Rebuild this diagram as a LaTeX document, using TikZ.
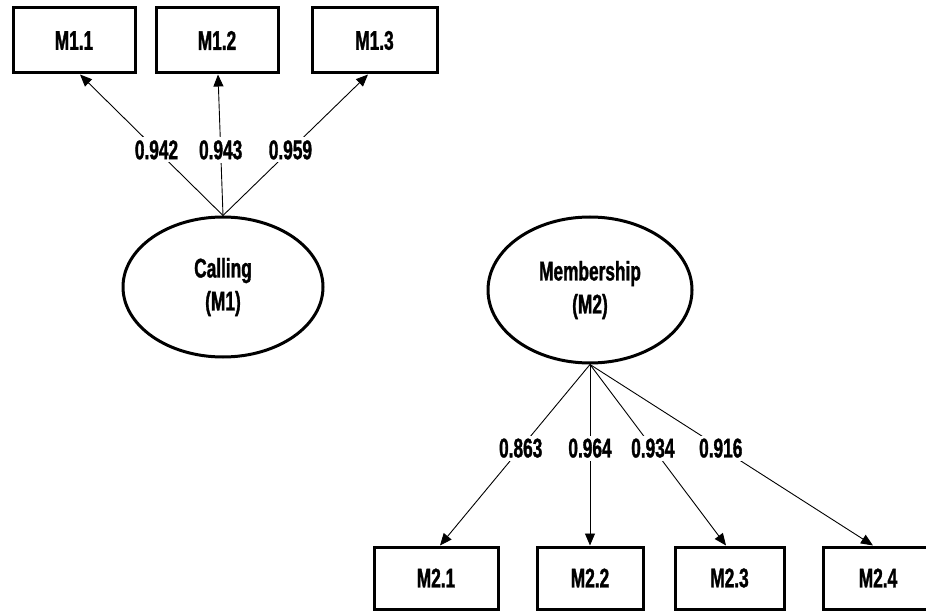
\documentclass[tikz,border=0pt]{standalone}
\usepackage{fontspec}
\newfontfamily\narrowbold{Liberation Sans Bold}[FakeStretch=0.64,FakeBold=1.2]
\usetikzlibrary{arrows.meta,shapes.geometric}
\begin{document}
\begin{tikzpicture}[x=1pt,y=-1pt,
  every node/.style={font=\narrowbold\fontsize{27}{33}\selectfont},
  itembox/.style={draw,line width=3pt,inner sep=0pt},
  latent/.style={draw,ellipse,line width=3pt,inner sep=0pt,align=center},
  conn/.style={line width=0.9pt,-{Triangle[length=12pt,width=10pt]}},
  lbl/.style={fill=white,inner sep=3pt}]
\useasboundingbox (0,0) rectangle (926,612);

% indicator boxes of the first construct
\node[itembox,minimum width=122pt,minimum height=65pt] (m11) at (74,40.5) {M1.1};
\node[itembox,minimum width=122pt,minimum height=65pt] (m12) at (217,40.5) {M1.2};
\node[itembox,minimum width=125pt,minimum height=65pt] (m13) at (374.5,40.5) {M1.3};

% latent constructs
\node[latent,minimum width=200pt,minimum height=140pt] (m1) at (223,287) {Calling\\(M1)};
\node[latent,minimum width=204pt,minimum height=146pt] (m2) at (590,290) {Membership\\(M2)};

% indicator boxes of the second construct
\node[itembox,minimum width=124pt,minimum height=62pt] (m21) at (436,578) {M2.1};
\node[itembox,minimum width=106pt,minimum height=62pt] (m22) at (590,578) {M2.2};
\node[itembox,minimum width=109pt,minimum height=62pt] (m23) at (729.5,578) {M2.3};
\node[itembox,minimum width=110pt,minimum height=62pt] (m24) at (878,578) {M2.4};

% loadings of M1
\draw[conn] (m1.north) -- node[lbl,pos=0.465]{0.942} ([xshift=6pt]m11.south);
\draw[conn] (m1.north) -- node[lbl,pos=0.465]{0.943} ([xshift=1pt]m12.south);
\draw[conn] (m1.north) -- node[lbl,pos=0.465]{0.959} ([xshift=-6.5pt]m13.south);

% loadings of M2
\draw[conn] (m2.south) -- node[lbl,pos=0.462]{0.863} ([xshift=4pt]m21.north);
\draw[conn] (m2.south) -- node[lbl,pos=0.462]{0.964} (m22.north);
\draw[conn] (m2.south) -- node[lbl,pos=0.462]{0.934} ([xshift=-3.5pt]m23.north);
\draw[conn] (m2.south) -- node[lbl,pos=0.462]{0.916} ([xshift=-5pt]m24.north);
\end{tikzpicture}
\end{document}
